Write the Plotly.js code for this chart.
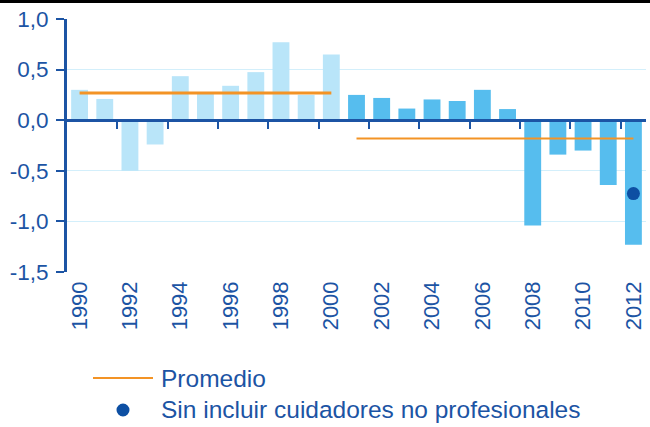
<!DOCTYPE html>
<html>
<head>
<meta charset="utf-8">
<script src="https://cdn.plot.ly/plotly-3.0.1.min.js"></script>
<style>
html,body{margin:0;padding:0;background:#fff;}
#chart{width:650px;height:427px;}
</style>
</head>
<body>
<div id="chart"></div>
<script>
// ---- data ----
var years = [1990,1991,1992,1993,1994,1995,1996,1997,1998,1999,2000,
             2001,2002,2003,2004,2005,2006,2007,2008,2009,2010,2011,2012];
var values = [0.30,0.21,-0.50,-0.24,0.435,0.26,0.34,0.475,0.77,0.25,0.65,
              0.25,0.22,0.115,0.205,0.19,0.30,0.11,-1.04,-0.34,-0.30,-0.64,-1.23];
var avgPeriod1 = {from:1990, to:2000, value:0.27};
var avgPeriod2 = {from:2001, to:2012, value:-0.18};
var dotYear = [2012];
var dotValue = [-0.725];
var tickYears = [1990,1992,1994,1996,1998,2000,2002,2004,2006,2008,2010,2012];
var yTicks = [-1.5,-1.0,-0.5,0.0,0.5,1.0];
var yTickLabels = ["-1,5","-1,0","-0,5","0,0","0,5","1,0"];
var legendLabels = ["Promedio","Sin incluir cuidadores no profesionales"];

// ---- styling ----
var BLUE = "#1c54a4";
var LIGHT = "#b9e5f9";
var DARK = "#56bdee";
var ORANGE = "#f39325";
var FONT = "Liberation Sans, Arial, sans-serif";

var barColors = years.map(function(y){ return y <= avgPeriod1.to ? LIGHT : DARK; });
var boundaryTicks = years.slice(0, years.length-1).filter(function(y, i){ return i % 2 === 1; })
                         .map(function(y){ return y + 0.5; });

var traces = [
  {type:"bar", x:years, y:values, marker:{color:barColors}, hoverinfo:"x+y", showlegend:false},
  {type:"scatter", mode:"lines", x:[avgPeriod1.from, avgPeriod1.to], y:[avgPeriod1.value, avgPeriod1.value],
   line:{color:ORANGE, width:3}, showlegend:false},
  {type:"scatter", mode:"lines", x:[avgPeriod2.from, avgPeriod2.to], y:[avgPeriod2.value, avgPeriod2.value],
   line:{color:ORANGE, width:2}, showlegend:false},
  {type:"scatter", mode:"markers", x:dotYear, y:dotValue,
   marker:{color:"#0d4fa3", size:13}, showlegend:false},
  // invisible trace to activate xaxis2 (zero axis with boundary ticks)
  {type:"scatter", mode:"markers", x:[years[0]], y:[0], xaxis:"x2", marker:{opacity:0}, hoverinfo:"skip", showlegend:false}
];

var W = 650, H = 427, L = 67, R = 4, T = 19, B = 155;
var pw = W - L - R, ph = H - T - B;
function px(x){ return (x - L) / pw; }
function py(y){ return (H - B - y) / ph; }

var layout = {
  width:W, height:H,
  margin:{l:L, r:R, t:T, b:B, pad:0},
  paper_bgcolor:"#fff", plot_bgcolor:"#fff",
  font:{family:FONT, color:BLUE, size:22},
  bargap:0.33,
  showlegend:false,
  xaxis:{
    range:[years[0]-0.5, years[years.length-1]+0.5],
    tickmode:"array", tickvals:tickYears, ticktext:tickYears.map(String),
    tickangle:-90, ticks:"", showgrid:false, zeroline:false, showline:false,
    tickfont:{family:FONT, size:22, color:BLUE}, ticklabelstandoff:4
  },
  xaxis2:{
    overlaying:"x", anchor:"free", position:0.6, side:"bottom",
    range:[years[0]-0.5, years[years.length-1]+0.5],
    tickmode:"array", tickvals:boundaryTicks, showticklabels:false,
    ticks:"outside", ticklen:7, tickwidth:2, tickcolor:BLUE,
    showline:true, linecolor:BLUE, linewidth:3, showgrid:false, zeroline:false
  },
  yaxis:{
    range:[-1.5, 1.0], tickmode:"array", tickvals:yTicks, ticktext:yTickLabels,
    ticks:"outside", ticklen:8, tickwidth:2, tickcolor:BLUE,
    showline:true, linecolor:BLUE, linewidth:3,
    showgrid:true, gridcolor:"#d3effb", gridwidth:1,
    zeroline:false, tickfont:{family:FONT, size:22.5, color:BLUE},
    ticklabelstandoff:3
  },
  shapes:[
    {type:"line", xref:"paper", yref:"paper", x0:px(0), x1:px(650), y0:py(1.5), y1:py(1.5),
     line:{color:"#000", width:3}},
    {type:"line", xref:"paper", yref:"paper", x0:px(93), x1:px(153), y0:py(378), y1:py(378),
     line:{color:ORANGE, width:2}},
    {type:"circle", xref:"paper", yref:"paper", xsizemode:"pixel", ysizemode:"pixel",
     xanchor:px(123), yanchor:py(410), x0:-6.5, x1:6.5, y0:-6.5, y1:6.5,
     fillcolor:"#0d4fa3", line:{width:0}}
  ],
  annotations:[
    {xref:"paper", yref:"paper", x:px(159), y:py(378), xanchor:"left", yanchor:"middle",
     text:legendLabels[0], showarrow:false, font:{family:FONT, size:24.5, color:BLUE}},
    {xref:"paper", yref:"paper", x:px(159), y:py(409), xanchor:"left", yanchor:"middle",
     text:legendLabels[1], showarrow:false, font:{family:FONT, size:24.5, color:BLUE}}
  ]
};

Plotly.newPlot("chart", traces, layout, {displayModeBar:false, staticPlot:true});
</script>
</body>
</html>
